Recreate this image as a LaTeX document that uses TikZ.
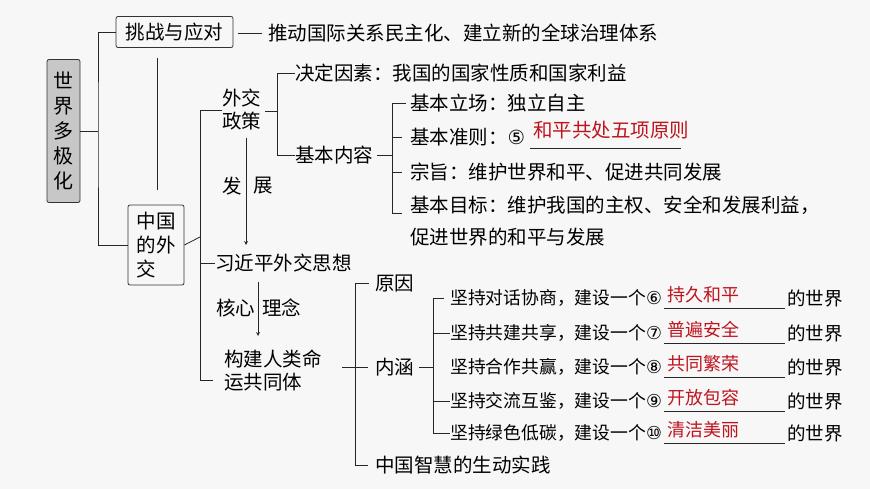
\documentclass[tikz,border=0pt]{standalone}
\usepackage{fontspec}
\newfontfamily\cjk{Noto Sans CJK SC}
\newfontfamily\djv{DejaVu Sans}
\begin{document}
\begin{tikzpicture}[x=1pt,y=-1pt,
  every node/.style={font=\cjk\fontsize{19.5}{23}\selectfont,inner sep=0pt,anchor=west,text=black},
  ln/.style={draw=black!85,line width=0.8pt},
  red/.style={text={rgb,255:red,190;green,20;blue,30}},
  ul/.style={draw=black!85,line width=1pt},
  box/.style={draw=black!80,rounded corners=2pt,line width=0.8pt,inner sep=4pt,anchor=center}]
\useasboundingbox[fill=black!3] (0,0) rectangle (870,489);
% root
\node[box,fill=black!22,minimum width=33pt,minimum height=143pt,align=center,font=\cjk\fontsize{20}{25}\selectfont] (root) at (63.5,131) {世\\界\\多\\极\\化};
\node[box,minimum width=117pt,minimum height=31pt] (tz) at (174.5,32) {挑战与应对};
\node[box,minimum width=56pt,minimum height=80pt,align=left,font=\cjk\fontsize{19.5}{24}\selectfont] (zg) at (156,245) {中国\\的外\\交};
\node (tz1) at (268,33) {推动国际关系民主化、建立新的全球治理体系};
\draw[ln] (root.east) -- (98,131);
\draw[ln] (tz.west) -| (98,131) |- (zg.west);
\draw[ln] (238,33) -- (262,33);
\draw[ln] (157,58) -- (157,190);
% level 2
\node[align=left] (wj) at (222,110) {外交\\政策};
\node (xjp) at (215,263) {习近平外交思想};
\node[align=left] (gj) at (224,371) {构建人类命\\运共同体};
\draw[ln] (zg.east) -- (200,237);
\draw[ln] (wj.west) -| (200,380) -- (213,380);
\draw[ln] (200,263) -- (xjp.west);
\node (fa) at (222,186) {发};
\node (zhan) at (253,186) {展};
\draw[ln,-stealth] (246,138) -- (246,245);
\node (hx) at (216,308) {核心};
\node (ln1) at (262,308) {理念};
\draw[ln,-stealth] (258,282) -- (258,336);
% policy
\node (jd) at (295,73) {决定因素：我国的国家性质和国家利益};
\node (jb) at (295,155) {基本内容};
\draw[ln] (265,111) -- (277,111);
\draw[ln] (jd.west) -| (277,155) -- (jb.west);
\node (i1) at (410,103) {基本立场：独立自主};
\node (i2) at (410,137) {基本准则：{\djv ⑤}};
\node[red] (i2a) at (533,130) {和平共处五项原则};
\draw[ul] (530,149) -- (681,149);
\node (i3) at (410,172) {宗旨：维护世界和平、促进共同发展};
\node (i4) at (410,205) {基本目标：维护我国的主权、安全和发展利益，};
\node (i4b) at (410,237) {促进世界的和平与发展};
\draw[ln] (jb.east)++(4,0) -- (392,155);
\draw[ln] (i1.west)++(-4,0) -| (392,213) -- (402,213);
\draw[ln] (392,137) -- (402,137);
\draw[ln] (392,172) -- (402,172);
% community
\node (yy) at (375,283) {原因};
\node (nh) at (375,367) {内涵};
\node (zh) at (375,465) {中国智慧的生动实践};
\draw[ln] (342,367) -- (368,367);
\draw[ln] (yy.west)++(-6,0) -| (355,465) -- ++(13,0);
\draw[ln] (nh.east)++(5,0) -- (433,367);
\foreach \y/\a/\n/\r [count=\i] in {298/坚持对话协商/⑥/持久和平,333/坚持共建共享/⑦/普遍安全,367/坚持合作共赢/⑧/共同繁荣,401/坚持交流互鉴/⑨/开放包容,433/坚持绿色低碳/⑩/清洁美丽}{
  \node[font=\cjk\fontsize{17.8}{22}\selectfont] (c\i) at (450,\y) {\a，建设一个{\djv\n}};
  \node[red,font=\cjk\fontsize{18}{22}\selectfont] (r\i) at (667,\y-3) {\r};
  \node[font=\cjk\fontsize{18.5}{22}\selectfont] (w\i) at (787,\y) {的世界};
  \draw[ul] (664,\y+10) -- (785,\y+10);
}
\draw[ln] (c1.west)++(-6,0) -| (433,433) -- (c5.west);
\draw[ln] (433,333) -- (c2.west);
\draw[ln] (433,401) -- (c4.west);
\end{tikzpicture}
\end{document}
